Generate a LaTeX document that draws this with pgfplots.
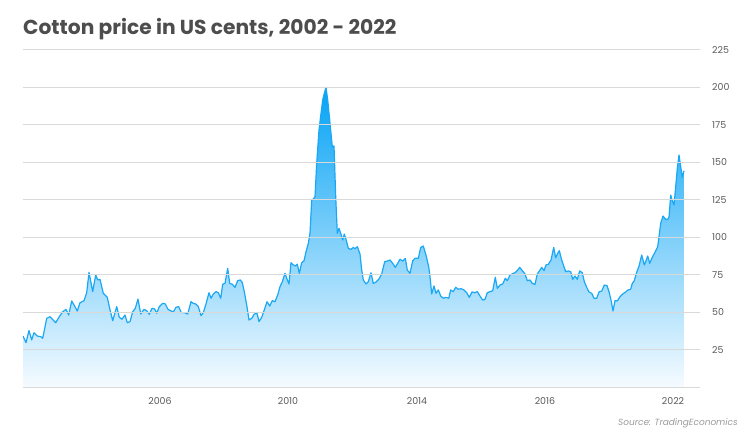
\documentclass[border=0pt]{standalone}
\usepackage{pgfplots}
\pgfplotsset{compat=1.18}
\usepackage{pgfplotstable}
\usepackage{fontspec}
\setmainfont{Poppins}
\definecolor{titlegray}{HTML}{4D4D4D}
\definecolor{tickgray}{HTML}{5A5A5A}
\definecolor{srcgray}{HTML}{9A9A9A}
\definecolor{gridgray}{HTML}{D9D9D9}
\definecolor{axisgray}{HTML}{ADADAD}
\definecolor{linec}{HTML}{1AA8F5}
\definecolor{topc}{HTML}{05A3F5}
\definecolor{botc}{HTML}{F6FBFF}
\pgfplotstableread{
x y
23 34.3
26 29.9
29 37.9
31.7 31.7
34 36.5
37.3 34.3
40.7 33.9
42.7 32.8
46.7 46.1
50 47.2
55.7 43.2
59.3 47.2
62.7 50.5
66 52.1
68.7 48.3
71.7 57.7
75 53.9
77.3 51
80 56.5
84 57.9
86.7 63.2
89 76.8
92.7 63.9
95.7 75
97.7 71.7
100 72.1
103.3 62.8
107.3 60.1
110 51.7
112.7 44.5
116.7 53.9
119.3 46.8
122 45.5
125 48.3
127.3 43.2
130 43.9
132.7 50.5
135.3 52.8
138 59
140.7 49
144 52.1
146.7 51.2
149.3 48.8
152 52.8
154.7 52.3
156.7 49.5
159.3 53.9
162.7 56.1
165.3 55.7
168 52.1
170.7 51.2
173.3 50.3
176 53.5
178.7 53.9
181.3 49.9
184.7 49.9
187.7 49
191 57.2
193.3 56.1
195.7 55.7
198.3 53.9
201 47.9
203.3 49.9
205.7 55
209 63.2
211 59.5
213.3 62.3
216 63.9
218.3 63.2
220.7 59.5
222.7 68.8
225 69.4
227.7 79.4
229.7 69.4
232.3 68.8
235 66.8
237.7 71.2
240.3 71.7
242.3 69.9
244.3 63.9
246.7 55
249 45
251.7 46.1
254.3 49
257 49.5
259 43.9
261.7 46.8
264.3 51.7
267 57.2
269.7 54.3
272.3 57.9
275 57.2
277.7 61.7
280 67.2
282.3 70.5
285 76.1
286.7 72.8
289 69
291 83.2
293.3 81.7
295.7 81
297.3 82.3
299.3 76.1
301.7 83.2
304 84.5
306 90.5
308.3 96.1
310 102.8
311.7 125
313.3 125.7
315 127.2
316.7 149.5
319 171.7
321 182.8
322.7 191.7
324.3 196.1
326 200.1
327.7 191.7
330 176.1
332.3 160.5
334 161
335.7 127.2
337.3 102.8
339 106.1
340.7 102.8
342.7 98.3
344.3 102.3
346 98.8
348.3 92.8
351 92.1
353.3 93.4
355 92.5
357.3 93.9
360 89
361.7 78.3
363.3 71.7
366 69
368.3 70.5
371 76.5
373.3 69.4
376 70.3
378.7 72.1
381.7 75.7
384.7 83.9
387.3 84.3
390 85
392.7 82.8
395.3 80.1
397.7 82.8
400 85.5
402.7 84.3
405.3 86.1
407.3 78.3
410 76.1
412.7 84.5
415 86.1
418.3 86.1
420.7 93.4
423.3 94.3
426 88.3
428.7 80.5
430 73.9
431.7 62.3
434 67.7
436 62.8
438.3 65
440.7 61
443.3 59.5
446 60.1
448.7 59.5
450.7 65
453.3 63.9
455.7 66.8
458.3 65.5
461 65.9
464 65
466.7 63.2
469.3 60.1
472 63.7
474.7 63.2
477.3 63.9
480 61
482.7 58.3
485 58.8
487.3 63.2
490 63.9
492.7 64.5
495.3 73.5
497.3 66.1
500 68.3
502.7 69
505.3 72.8
507.3 71.2
510 75
513.3 76.1
515 76.5
517.7 78.3
519.7 80.1
522.3 77.9
525 75.7
527.3 71.2
530 71.7
532.3 69.4
535 68.8
537.3 75.7
540 78.3
541.7 80.1
544 77.9
546 81.7
548.3 82.1
551 85
553.7 93.4
555.7 86.5
557.7 89.5
559.3 91.2
561.7 85
564 80.5
565.7 77.2
568.3 77.7
570.7 77.2
572.7 72.1
575 74.3
577.3 72.1
579.7 77.7
582.3 76.5
584.3 70.5
586.7 66.8
589 63.7
591.7 62.8
594 59.5
596.7 59.5
599 63.7
601.7 64.3
604.3 68.3
607 67.9
609 63.9
611 58.3
613 51
615 57.9
617.3 57.7
620 60.5
622.7 62.3
625.3 63.5
628 65
630.7 65.5
632.3 69.4
634.3 71.2
636.3 76.1
639 81
641.7 88.3
644.3 81.7
646.3 85
647.7 87.7
649.7 82.8
652.3 86.8
655 90.1
657.7 93.9
659 100.5
660.7 109.5
663 114.3
665.7 112.1
667.7 112.1
669 113.5
670.7 128.3
672.3 124.5
674 121.7
675.7 133.9
677.3 146.1
679 155
680.7 147.2
682.3 140.1
684 144.5
}\cotton
\begin{document}
\begin{tikzpicture}
\useasboundingbox (0,0) rectangle (750bp,442bp);
\begin{axis}[
  at={(23bp,54.5bp)}, anchor=south west,
  scale only axis, width=677bp, height=337.5bp,
  xmin=23, xmax=700, ymin=0, ymax=225,
  axis line style={draw=none},
  xtick={160,288,417,545,673},
  xticklabels={2006,2010,2014,2016,2022},
  ytick={25,50,...,225},
  extra y ticks={0}, extra y tick labels={},
  extra y tick style={grid style={draw=axisgray, line width=1.5bp}},
  ymajorgrids, major grid style={draw=gridgray, line width=1bp},
  major tick length=0pt,
  yticklabel pos=right,
  yticklabel style={anchor=west, inner sep=0pt, xshift=12bp, font=\fontsize{9.5}{10}\selectfont, text=tickgray},
  xticklabel style={anchor=north, inner sep=0pt, yshift=-10bp, font=\fontsize{9.5}{10}\selectfont, text=tickgray},
  /pgf/number format/assume math mode=true,
  axis on top,
]
\addplot[draw=none, top color=topc, bottom color=botc] table[x=x, y=y] {\cotton} \closedcycle;
\addplot[color=linec, line width=1.2bp, line join=round] table[x=x, y=y] {\cotton};
\end{axis}
\node[anchor=base west, inner sep=0pt, text=titlegray, font=\fontsize{20.3}{24}\selectfont\bfseries] at (23bp,407bp) {Cotton price in US cents, 2002 - 2022};
\node[anchor=base east, inner sep=0pt, text=srcgray, font=\fontsize{9}{10}\selectfont\itshape] at (738bp,17bp) {Source: TradingEconomics};
\end{tikzpicture}
\end{document}
